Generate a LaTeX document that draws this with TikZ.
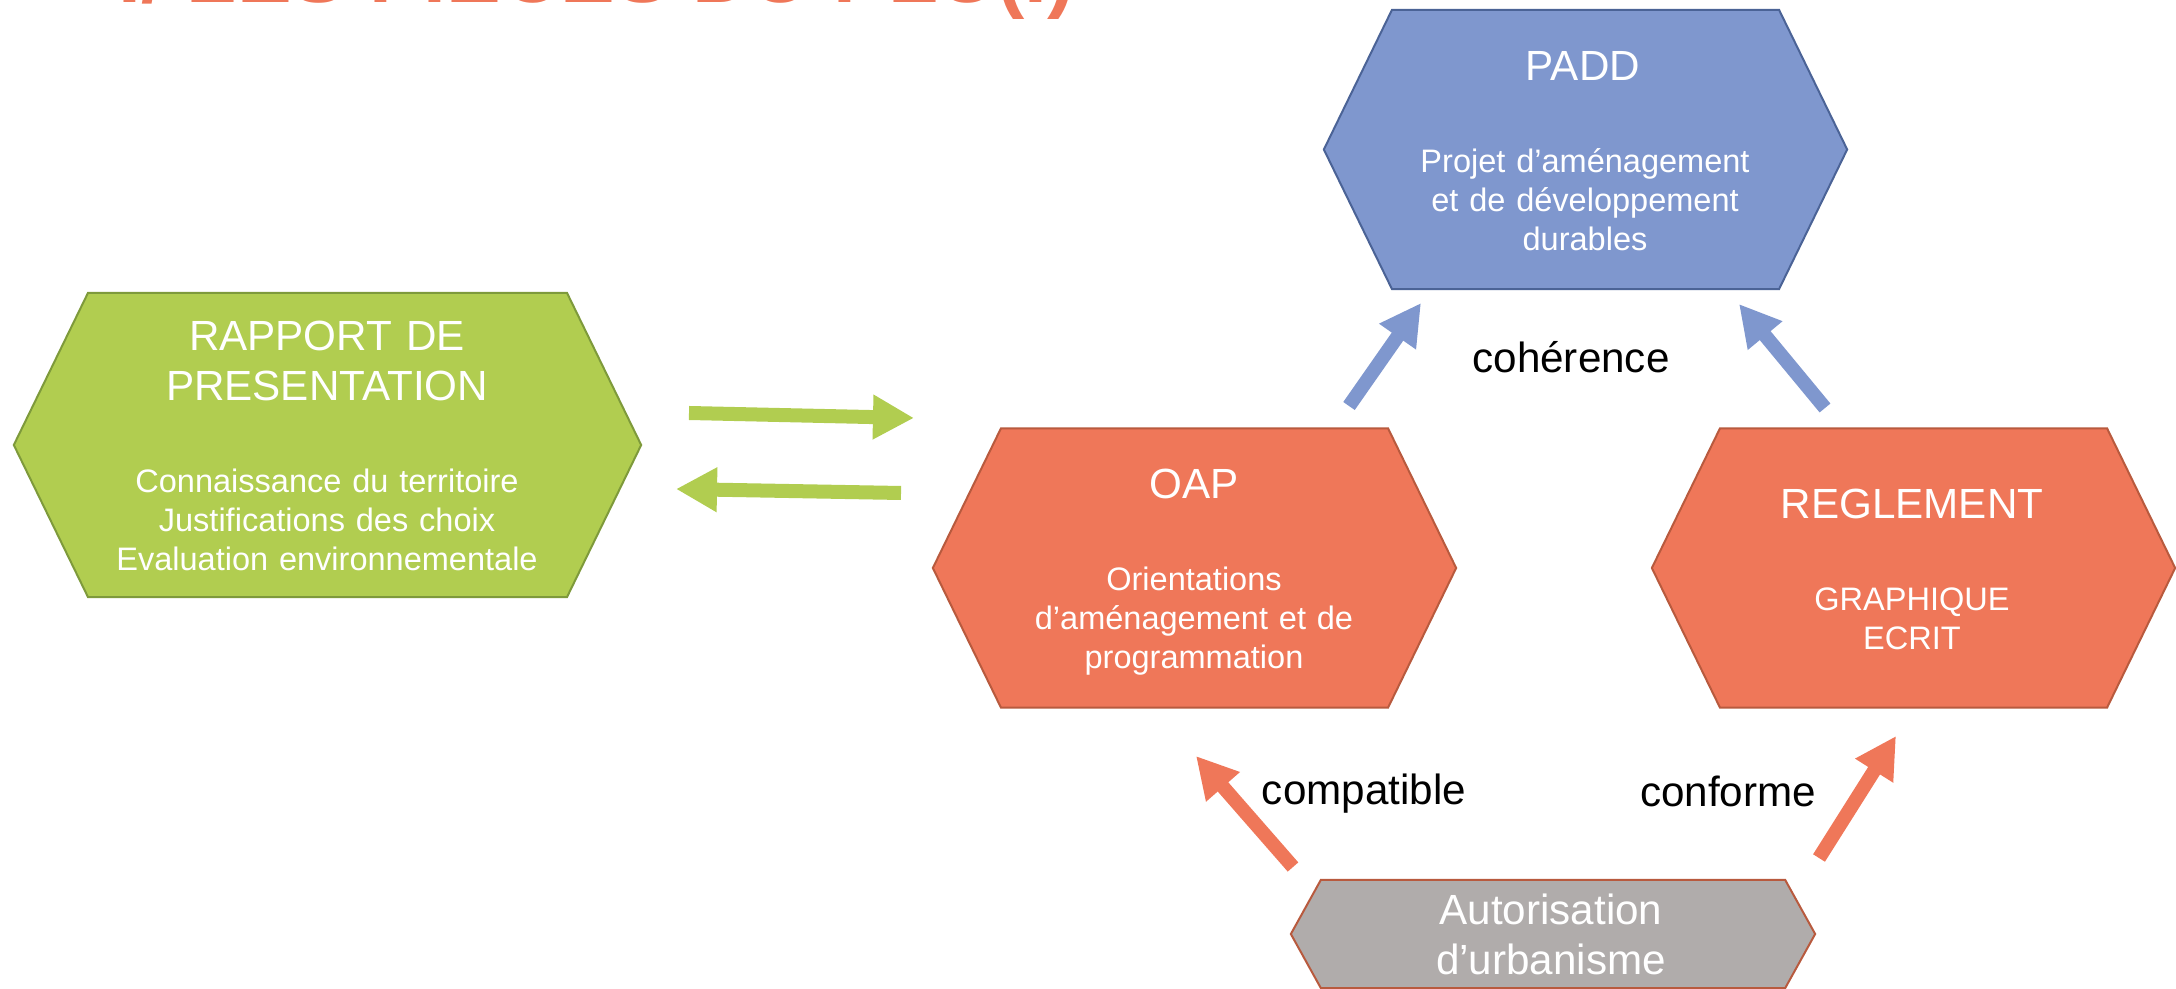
\documentclass[tikz,border=0pt]{standalone}
\usepackage{fontspec}
\setmainfont{Liberation Sans}
\usetikzlibrary{shapes.symbols, arrows.meta}

\definecolor{greenfill}{HTML}{B1CD50}
\definecolor{greenline}{HTML}{7E9A3B}
\definecolor{bluefill}{HTML}{7F97CE}
\definecolor{blueline}{HTML}{4B6396}
\definecolor{orangefill}{HTML}{EF7759}
\definecolor{orangeline}{HTML}{B85A3E}
\definecolor{greyfill}{HTML}{B0ACAB}

\begin{document}
\begin{tikzpicture}[x=0.01cm, y=-0.01cm,
    hexa/.style={signal, signal to=west and east, signal pointer angle=128,
        draw, line width=0.02cm, inner sep=0pt, minimum width=5.23cm, minimum height=2.79cm},
    titletext/.style={text=white, text width=5.2cm, align=center, inner sep=0pt, anchor=base,
        font=\fontsize{12}{14.2}\selectfont},
    subtext/.style={text=white, text width=5.2cm, align=center, inner sep=0pt, anchor=base,
        font=\fontsize{9.25}{11}\selectfont},
    linktext/.style={anchor=base, inner sep=0pt, font=\fontsize{12}{14.2}\selectfont},
    blockarrow/.style={line width=0.14cm, -{Triangle[length=0.41cm, width=0.42cm]}}]
    \useasboundingbox (0,0) rectangle (2176,989);

    % Page title, cut by the top edge
    \node[anchor=base west, inner sep=0pt, text=orangefill,
        font=\fontsize{23.3}{28}\selectfont\bfseries] (pagetitle) at (118,2.5) {I/ LES PIECES DU PLU(I)};

    % Rapport de presentation
    \node[hexa, fill=greenfill, draw=greenline, minimum width=6.27cm, minimum height=3.04cm] (rapport) at (327.5,445) {};
    \node[titletext] (rapporttitle) at (327,350.7) {RAPPORT DE\\PRESENTATION};
    \node[subtext] (rapportsub) at (327,493) {Connaissance du territoire\\Justifications des choix\\Evaluation environnementale};

    % PADD
    \node[hexa, fill=bluefill, draw=blueline] (padd) at (1585.5,149.5) {};
    \node[titletext] (paddtitle) at (1583,81) {PADD};
    \node[subtext] (paddsub) at (1585,173) {Projet d’aménagement\\et de développement\\durables};

    % OAP
    \node[hexa, fill=orangefill, draw=orangeline] (oap) at (1194.5,568) {};
    \node[titletext] (oaptitle) at (1194,499) {OAP};
    \node[subtext] (oapsub) at (1194,591) {Orientations\\d’aménagement et de\\programmation};

    % Reglement
    \node[hexa, fill=orangefill, draw=orangeline] (regl) at (1913.5,568) {};
    \node[titletext] (regltitle) at (1912,519) {REGLEMENT};
    \node[subtext] (reglsub) at (1912,611) {GRAPHIQUE\\ECRIT};

    % Autorisation d'urbanisme
    \node[hexa, signal pointer angle=122, fill=greyfill, draw=orangeline,
        minimum width=5.24cm, minimum height=1.08cm] (autor) at (1553,934) {};
    \node[titletext] (autortitle) at (1551,925) {Autorisation\\d’urbanisme};

    % Arrow ends
    \coordinate (gr1a) at (689,413);   \coordinate (gr1b) at (914,418);
    \coordinate (gr2a) at (901,493);   \coordinate (gr2b) at (676,489);
    \coordinate (bl1a) at (1349,406);  \coordinate (bl1b) at (1421,303);
    \coordinate (bl2a) at (1825,408);  \coordinate (bl2b) at (1739,304);
    \coordinate (or1a) at (1293,867);  \coordinate (or1b) at (1196,756);
    \coordinate (or2a) at (1819,858);  \coordinate (or2b) at (1896,736);

    \draw[blockarrow, greenfill] (gr1a) -- (gr1b);
    \draw[blockarrow, greenfill] (gr2a) -- (gr2b);
    \draw[blockarrow, bluefill] (bl1a) -- (bl1b);
    \draw[blockarrow, bluefill] (bl2a) -- (bl2b);
    \draw[blockarrow, orangefill] (or1a) -- (or1b);
    \draw[blockarrow, orangefill] (or2a) -- (or2b);

    % Link labels
    \node[linktext] (coherence) at (1571,373) {cohérence};
    \node[linktext] (compatible) at (1364,805) {compatible};
    \node[linktext] (conforme) at (1728,807) {conforme};
\end{tikzpicture}
\end{document}
